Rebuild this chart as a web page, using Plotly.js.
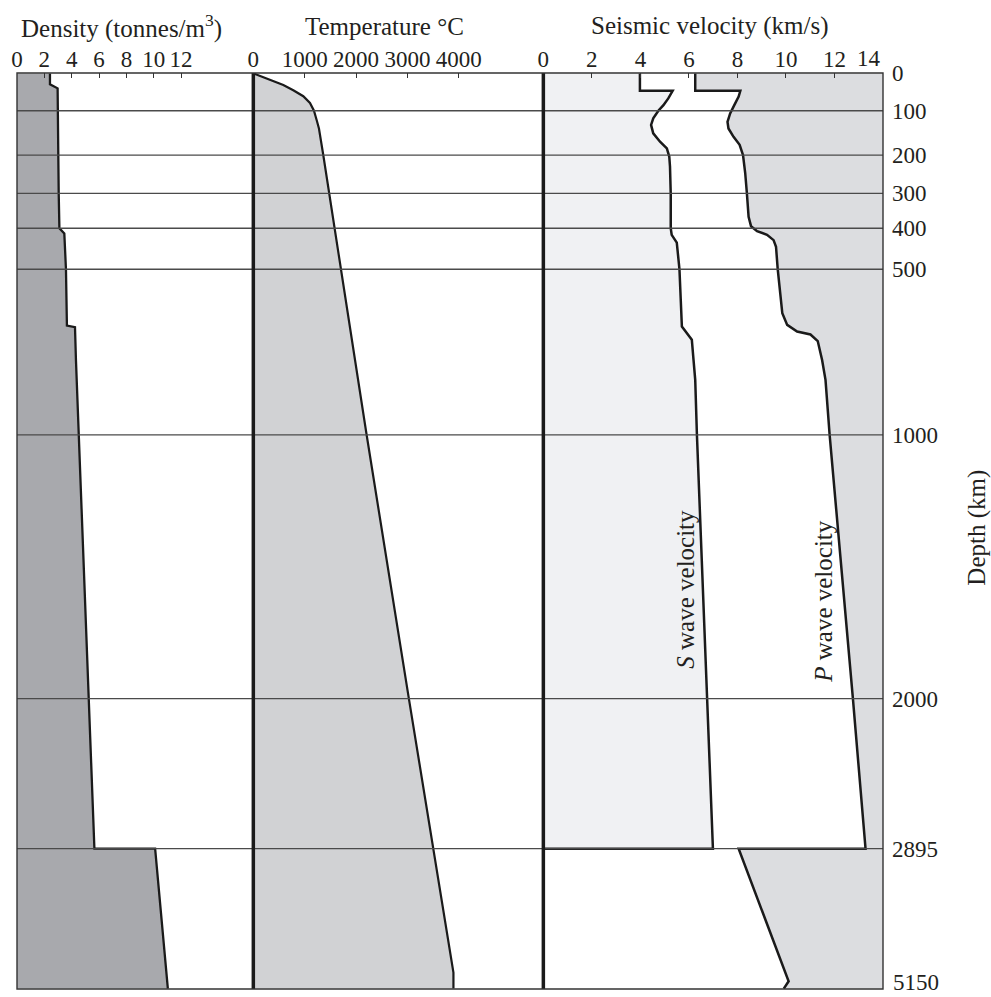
<!DOCTYPE html>
<html>
<head>
<meta charset="utf-8">
<script src="https://cdn.plot.ly/plotly-3.0.1.min.js"></script>
<style>html,body{margin:0;padding:0;background:#fff;}#chart{width:991px;height:997px;}</style>
</head>
<body>
<div id="chart"></div>
<script>
// ---------- Data ----------
const depthTicks = [0, 100, 200, 300, 400, 500, 1000, 2000, 2895, 5150];
const densityTicks = [0, 2, 4, 6, 8, 10, 12];
const temperatureTicks = [0, 1000, 2000, 3000, 4000];
const velocityTicks = [0, 2, 4, 6, 8, 10, 12];

const densityDepth = [0, 29, 40, 100, 200, 300, 400, 413, 500, 670, 675, 774, 1000, 2000, 2895, 2895, 5150];
const densityValue = [2.41, 2.41, 2.97, 2.97, 3.02, 3.05, 3.1, 3.46, 3.58, 3.65, 4.24, 4.31, 4.52, 5.24, 5.66, 10.1, 11.03];

const temperatureDepth = [0, 31, 45, 61, 79, 100, 121, 140, 200, 300, 400, 500, 1000, 2000, 2895, 4890, 5150];
const temperatureValue = [0, 584, 778, 973, 1103, 1181, 1233, 1278, 1362, 1479, 1576, 1706, 2206, 3029, 3500, 3897, 3897];

const sDepth = [0, 46.5, 46.5, 67, 85, 100, 117, 132, 151, 170, 185, 204, 230, 300, 400, 416, 435, 500, 673, 693, 713, 774, 834, 1000, 2000, 2895, 2895];
const sValue = [3.98, 3.98, 5.33, 5.15, 4.95, 4.74, 4.53, 4.44, 4.53, 4.81, 5.09, 5.19, 5.22, 5.25, 5.25, 5.29, 5.5, 5.61, 5.71, 5.91, 6.12, 6.19, 6.26, 6.33, 6.74, 6.99, 0];

const pDepth = [0, 46.5, 46.5, 62, 85, 106, 125, 140, 159, 177, 200, 247, 300, 367, 394, 407, 416, 429, 445, 500, 633, 668, 688, 697, 717, 774, 834, 1000, 2000, 2895, 2895, 5032, 5150];
const pValue = [6.26, 6.26, 8.12, 8.05, 7.87, 7.7, 7.59, 7.63, 7.84, 8.09, 8.23, 8.32, 8.39, 8.46, 8.56, 8.81, 9.22, 9.49, 9.59, 9.66, 9.85, 10.05, 10.46, 11.01, 11.31, 11.49, 11.63, 11.8, 12.76, 13.28, 8.05, 10.11, 9.91];

// ---------- Layout: piecewise (non-linear) depth scale of the original ----------
const depthTickPos = [0, 37.4, 81.7, 120, 155, 196, 361.7, 625.7, 776, 916];
const velocityMax = 14;
const panelDomains = [[0, 0.2729], [0.2729, 0.6078], [0.6078, 1]];
function yPos(d) {
  for (let i = 1; i < depthTicks.length; i++) {
    if (d <= depthTicks[i]) {
      const t = (d - depthTicks[i - 1]) / (depthTicks[i] - depthTicks[i - 1]);
      return depthTickPos[i - 1] + t * (depthTickPos[i] - depthTickPos[i - 1]);
    }
  }
  return depthTickPos[depthTickPos.length - 1];
}
const Y = arr => arr.map(yPos);
const lastDepth = depthTicks[depthTicks.length - 1];

const FONT = 'Liberation Serif, Times New Roman, serif';
const TXT = '#231f20';
const LINE = '#1a1a1a';

const traces = [
  {x: densityValue, y: Y(densityDepth), xaxis: 'x', yaxis: 'y', type: 'scatter', mode: 'lines',
   fill: 'tozerox', fillcolor: '#a8a9ad', line: {color: LINE, width: 2.3}, hoverinfo: 'skip'},
  {x: temperatureValue, y: Y(temperatureDepth), xaxis: 'x2', yaxis: 'y', type: 'scatter', mode: 'lines',
   fill: 'tozerox', fillcolor: '#d1d2d4', line: {color: LINE, width: 2.2}, hoverinfo: 'skip'},
  {x: sValue, y: Y(sDepth), xaxis: 'x3', yaxis: 'y', type: 'scatter', mode: 'lines',
   fill: 'tozerox', fillcolor: '#f0f1f3', line: {color: LINE, width: 2.5}, hoverinfo: 'skip'},
  {x: pValue.concat([velocityMax, velocityMax]), y: Y(pDepth.concat([lastDepth, 0])),
   xaxis: 'x3', yaxis: 'y', type: 'scatter', mode: 'lines', fill: 'toself', fillcolor: '#dcdde0',
   line: {width: 0}, hoverinfo: 'skip'},
  {x: pValue, y: Y(pDepth), xaxis: 'x3', yaxis: 'y', type: 'scatter', mode: 'lines',
   line: {color: LINE, width: 2.5}, hoverinfo: 'skip'}
];

const shapes = [];
depthTicks.forEach((d, i) => {
  if (i === 0 || i === depthTicks.length - 1) return;
  shapes.push({type: 'line', xref: 'paper', x0: 0, x1: 1, yref: 'y', y0: yPos(d), y1: yPos(d),
    line: {color: '#4a4a4a', width: 1.3}, layer: 'above'});
});
shapes.push({type: 'line', xref: 'paper', x0: panelDomains[1][0], x1: panelDomains[1][0], yref: 'paper', y0: 0, y1: 1, line: {color: LINE, width: 3.5}, layer: 'above'});
shapes.push({type: 'line', xref: 'paper', x0: panelDomains[2][0], x1: panelDomains[2][0], yref: 'paper', y0: 0, y1: 1, line: {color: LINE, width: 3.5}, layer: 'above'});
shapes.push({type: 'rect', xref: 'paper', yref: 'paper', x0: 0, x1: 1, y0: 0, y1: 1, line: {color: '#333', width: 1.4}, layer: 'above'});

const tickFont = {family: FONT, size: 23, color: TXT};
const titleFont = {family: FONT, size: 25, color: TXT};
const xBase = {side: 'top', anchor: 'y', ticks: 'inside', ticklen: 5, tickwidth: 1, tickcolor: '#333',
  showgrid: false, zeroline: false, showline: false, tickfont: tickFont, fixedrange: true};

const layout = {
  width: 991, height: 997,
  margin: {l: 17, r: 108, t: 73, b: 8, pad: 0},
  paper_bgcolor: '#fff', plot_bgcolor: '#fff',
  showlegend: false,
  xaxis: Object.assign({}, xBase, {domain: panelDomains[0], range: [0, 17.28], tickvals: densityTicks}),
  xaxis2: Object.assign({}, xBase, {domain: panelDomains[1], range: [0, 5648], tickvals: temperatureTicks}),
  xaxis3: Object.assign({}, xBase, {domain: panelDomains[2], range: [0, velocityMax], tickvals: velocityTicks}),
  yaxis: {anchor: 'x3', side: 'right', range: [916.4, -0.4], tickvals: depthTickPos.slice(0, -1),
    ticktext: depthTicks.slice(0, -1).map(String), ticks: '', showgrid: false, zeroline: false, showline: false,
    ticklabelstandoff: 8, tickfont: tickFont, fixedrange: true},
  shapes: shapes,
  annotations: [
    {text: 'Density (tonnes/m<sup>3</sup>)', xref: 'paper', yref: 'paper', x: 0.1209, y: 1.051,
     xanchor: 'center', yanchor: 'middle', showarrow: false, font: titleFont},
    {text: 'Temperature °C', xref: 'paper', yref: 'paper', x: 0.4249, y: 1.051,
     xanchor: 'center', yanchor: 'middle', showarrow: false, font: titleFont},
    {text: 'Seismic velocity (km/s)', xref: 'paper', yref: 'paper', x: 0.7991, y: 1.051,
     xanchor: 'center', yanchor: 'middle', showarrow: false, font: titleFont},
    {text: String(velocityMax), xref: 'x3', yref: 'paper', x: velocityMax, y: 1, yshift: 0,
     xanchor: 'right', yanchor: 'bottom', showarrow: false, font: tickFont},
    {text: String(lastDepth), xref: 'paper', yref: 'paper', x: 1, xshift: 8, y: 0, yshift: -8,
     xanchor: 'left', yanchor: 'bottom', showarrow: false, font: tickFont},
    {text: 'Depth (km)', xref: 'paper', yref: 'paper', x: 1.1082, y: 0.5033, textangle: -90,
     xanchor: 'center', yanchor: 'middle', showarrow: false, font: titleFont},
    {text: '<i>S</i> wave velocity', xref: 'x3', yref: 'y', x: 5.87, y: 516, textangle: -90,
     xanchor: 'center', yanchor: 'middle', showarrow: false, font: titleFont},
    {text: '<i>P</i> wave velocity', xref: 'x3', yref: 'y', x: 11.54, y: 528.5, textangle: -90,
     xanchor: 'center', yanchor: 'middle', showarrow: false, font: titleFont}
  ]
};

Plotly.newPlot('chart', traces, layout, {displayModeBar: false, staticPlot: true});
</script>
</body>
</html>
